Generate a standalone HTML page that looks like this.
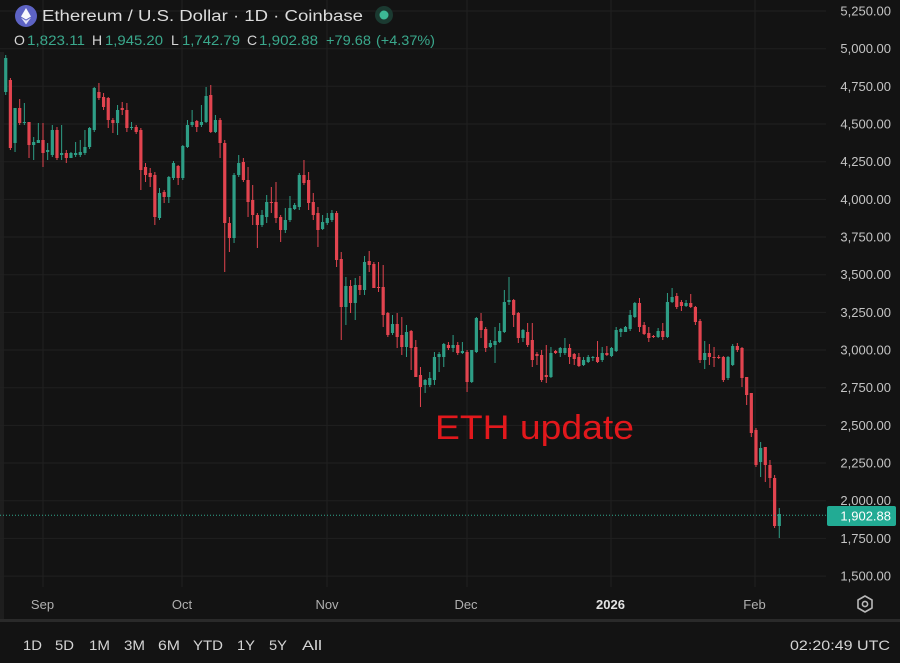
<!DOCTYPE html>
<html><head><meta charset="utf-8">
<style>
html,body{margin:0;padding:0;background:#131313;}
body{width:900px;height:663px;overflow:hidden;}
svg{display:block;font-family:"Liberation Sans",sans-serif;}
</style></head>
<body>
<svg id="c" width="900" height="663" viewBox="0 0 900 663" xmlns="http://www.w3.org/2000/svg">
<rect width="900" height="663" fill="#131313"/>
<rect x="0" y="52" width="4" height="567" fill="#1e1e1e"/>
<g id="grid" stroke="#202020" stroke-width="1"></g>
<g id="candles"></g>
<line x1="0" y1="515.3" x2="826" y2="515.3" stroke="#2fa88c" stroke-width="1" stroke-dasharray="1 2"/>

<!-- header -->
<circle cx="26" cy="16" r="11" fill="#5d63c4"/>
<path d="M26 8 L31 16.5 L26 19.5 L21 16.5 Z" fill="#ffffff" opacity="0.95"/>
<path d="M21 17.6 L26 20.6 L31 17.6 L26 24.5 Z" fill="#ffffff" opacity="0.8"/>
<text x="42" y="21" font-size="15.5" fill="#dcdcdc" textLength="321" lengthAdjust="spacingAndGlyphs">Ethereum / U.S. Dollar · 1D · Coinbase</text>
<circle cx="384" cy="15" r="9" fill="#1b3a31"/>
<circle cx="384" cy="15" r="4.5" fill="#3cb895"/>
<g font-size="14" fill="#3aa88c">
<text x="14" y="45" fill="#d6d6d6">O</text>
<text x="27" y="45" textLength="58" lengthAdjust="spacingAndGlyphs">1,823.11</text>
<text x="92" y="45" fill="#d6d6d6">H</text>
<text x="105" y="45" textLength="58" lengthAdjust="spacingAndGlyphs">1,945.20</text>
<text x="171" y="45" fill="#d6d6d6">L</text>
<text x="182" y="45" textLength="58" lengthAdjust="spacingAndGlyphs">1,742.79</text>
<text x="247" y="45" fill="#d6d6d6">C</text>
<text x="259" y="45" textLength="59" lengthAdjust="spacingAndGlyphs">1,902.88</text>
<text x="326" y="45" textLength="45" lengthAdjust="spacingAndGlyphs">+79.68</text>
<text x="376" y="45" textLength="59" lengthAdjust="spacingAndGlyphs">(+4.37%)</text>
</g>

<!-- ETH update -->
<text x="435" y="439" font-size="34" fill="#e2181c" textLength="199" lengthAdjust="spacingAndGlyphs">ETH update</text>

<!-- price axis -->
<g font-size="13" fill="#c4c4c4" text-anchor="end">
<text x="891" y="15.5">5,250.00</text>
<text x="891" y="53.2">5,000.00</text>
<text x="891" y="90.8">4,750.00</text>
<text x="891" y="128.5">4,500.00</text>
<text x="891" y="166.2">4,250.00</text>
<text x="891" y="203.8">4,000.00</text>
<text x="891" y="241.5">3,750.00</text>
<text x="891" y="279.2">3,500.00</text>
<text x="891" y="316.9">3,250.00</text>
<text x="891" y="354.5">3,000.00</text>
<text x="891" y="392.2">2,750.00</text>
<text x="891" y="429.9">2,500.00</text>
<text x="891" y="467.5">2,250.00</text>
<text x="891" y="505.2">2,000.00</text>
<text x="891" y="542.9">1,750.00</text>
<text x="891" y="580.5">1,500.00</text>
</g>
<rect x="827" y="506" width="69" height="20" rx="2" fill="#22ab94"/>
<text x="891" y="520.5" font-size="13" fill="#ffffff" text-anchor="end">1,902.88</text>

<!-- time axis -->
<g font-size="13" fill="#b0b0b0" text-anchor="middle">
<text x="42.5" y="609">Sep</text>
<text x="182" y="609">Oct</text>
<text x="327" y="609">Nov</text>
<text x="466" y="609">Dec</text>
<text x="610.5" y="609" fill="#e2e2e2" font-weight="bold">2026</text>
<text x="754.5" y="609">Feb</text>
</g>
<path d="M865 596 L872 600 L872 608 L865 612 L858 608 L858 600 Z" fill="none" stroke="#b8b8b8" stroke-width="1.6" stroke-linejoin="round"/>
<circle cx="865" cy="604" r="2.6" fill="none" stroke="#b8b8b8" stroke-width="1.6"/>

<rect x="0" y="619" width="900" height="3" fill="#2a2a2a"/>

<!-- bottom toolbar -->
<g font-size="14" fill="#d4d4d4">
<text x="23" y="650" textLength="19" lengthAdjust="spacingAndGlyphs">1D</text>
<text x="55" y="650" textLength="19" lengthAdjust="spacingAndGlyphs">5D</text>
<text x="89" y="650" textLength="21" lengthAdjust="spacingAndGlyphs">1M</text>
<text x="124" y="650" textLength="21" lengthAdjust="spacingAndGlyphs">3M</text>
<text x="158" y="650" textLength="22" lengthAdjust="spacingAndGlyphs">6M</text>
<text x="193" y="650" textLength="30" lengthAdjust="spacingAndGlyphs">YTD</text>
<text x="237" y="650" textLength="18" lengthAdjust="spacingAndGlyphs">1Y</text>
<text x="269" y="650" textLength="18" lengthAdjust="spacingAndGlyphs">5Y</text>
<text x="302" y="650" textLength="20" lengthAdjust="spacingAndGlyphs">All</text>
<text x="790" y="650" textLength="100" lengthAdjust="spacingAndGlyphs">02:20:49 UTC</text>
</g>
</svg>
<script>
(function(){
var NS="http://www.w3.org/2000/svg";
var grid=document.getElementById('grid');
var gp='';
for(var k=0;k<16;k++){var y=(11+k*37.67).toFixed(1);gp+='M0 '+y+'H826';}
[43,182,327,467,611,755].forEach(function(x){gp+='M'+x+' 0V587';});
var p=document.createElementNS(NS,'path');p.setAttribute('d',gp);p.setAttribute('fill','none');grid.appendChild(p);

var d=[
[92,58,55,95],[80,148,78,150],[143,108,108,152],[108,123,99,125],[123,122,103,125],[122,145,122,158],[145,142,137,160],[143,140,123,143],
[140,153,123,167],[152,150,143,160],[155,130,125,157],[130,158,127,160],[155,153,125,160],[153,158,150,163],[158,153,152,158],[155,153,142,157],
[155,152,140,157],[153,147,130,155],[147,128,127,149],[130,88,87,132],[92,98,83,100],[97,107,93,110],[98,120,97,128],[120,123,118,133],
[123,110,105,135],[108,110,102,115],[110,128,103,132],[128,127,122,130],[127,132,125,134],[130,170,128,190],[167,175,163,182],[173,177,168,187],
[175,217,172,225],[218,193,188,220],[192,197,190,203],[197,177,176,203],[178,163,161,180],[166,178,165,185],[178,146,145,180],[147,125,120,148],
[125,122,110,127],[121,127,120,132],[125,122,105,127],[122,96,87,123],[95,132,85,133],[132,120,115,133],[120,143,118,158],[143,223,140,272],
[223,238,217,252],[238,175,173,243],[175,163,155,177],[162,180,158,182],[180,202,167,217],[200,215,185,225],[215,225,213,248],[225,215,210,227],
[217,202,195,223],[202,203,187,213],[202,218,182,223],[217,230,215,242],[230,220,208,233],[220,208,196,222],[209,205,203,210],[207,175,173,210],
[175,183,160,185],[180,203,172,210],[202,215,193,220],[213,230,207,247],[229,222,215,230],[223,218,213,225],[220,213,210,222],[213,260,211,267],
[259,307,252,340],[307,286,277,325],[286,303,280,313],[303,285,278,320],[285,290,276,295],[290,262,256,295],[261,265,251,272],[264,288,262,288],
[287,288,262,292],[287,315,265,327],[313,335,312,337],[333,324,315,335],[324,337,313,348],[335,347,317,355],[347,332,325,357],[331,348,330,370],
[347,377,340,377],[375,387,367,407],[385,380,379,393],[385,378,372,387],[380,357,352,385],[357,354,352,372],[357,344,343,367],[345,348,342,350],
[348,345,335,352],[345,353,342,355],[353,351,342,354],[352,382,350,392],[382,350,350,383],[352,318,317,353],[321,330,313,338],[329,348,327,352],
[347,343,340,348],[345,341,327,363],[342,331,323,343],[332,302,290,333],[302,300,277,305],[300,315,299,327],[313,338,312,343],[338,330,329,342],
[332,345,323,347],[340,360,323,367],[354,356,352,365],[355,380,350,382],[375,377,345,383],[377,353,347,378],[351,353,350,354],[353,348,347,357],
[353,348,338,355],[348,357,344,364],[354,359,353,365],[357,366,353,367],[365,360,357,366],[362,357,355,363],[358,357,356,361],[357,362,341,363],
[360,353,347,362],[353,355,346,356],[356,348,347,357],[351,330,327,352],[332,329,328,337],[332,327,326,332],[329,315,310,331],[317,303,302,318],
[303,327,298,332],[325,334,322,335],[333,338,327,342],[336,337,335,338],[337,331,328,338],[331,337,323,340],[337,302,293,338],[302,297,288,303],
[296,307,293,309],[302,306,300,311],[306,303,300,307],[303,307,294,308],[307,322,306,325],[321,360,319,363],[360,353,341,369],[353,357,344,365],
[357,357.8,347,367],[357,357.8,355,359],[357,380,356,382],[378,357,356,380],[365,346,344,366],[346,350,343,352],[348,378,347,387],[377,395,377,405],
[393,433,393,437],[430,465,428,467],[462,448,442,477],[447,465,447,482],[465,478,460,488],[478,526,475,528],[526,514,508,538]
];
var gw='',gb='',rw='',rb='';
for(var j=0;j<d.length;j++){
 var i=j-8, x=43+i*4.66, o=d[j][0], c=d[j][1], h=d[j][2], l=d[j][3];
 var up=c<o, top=Math.min(o,c), bot=Math.max(o,c), hh=Math.max(bot-top,1);
 var w='M'+x.toFixed(2)+' '+h+'V'+l;
 var b='M'+(x-1.6).toFixed(2)+' '+top+'h3.2v'+hh.toFixed(1)+'h-3.2z';
 if(up){gw+=w;gb+=b;}else{rw+=w;rb+=b;}
}
var g=document.getElementById('candles');
function add(dd,attrs){var e=document.createElementNS(NS,'path');e.setAttribute('d',dd);for(var a in attrs)e.setAttribute(a,attrs[a]);g.appendChild(e);}
add(gw,{stroke:'#2e9e86','stroke-width':'1',fill:'none'});
add(rw,{stroke:'#e2444f','stroke-width':'1',fill:'none'});
add(gb,{fill:'#2e9e86'});
add(rb,{fill:'#e2444f'});
})();
</script>
</body></html>
